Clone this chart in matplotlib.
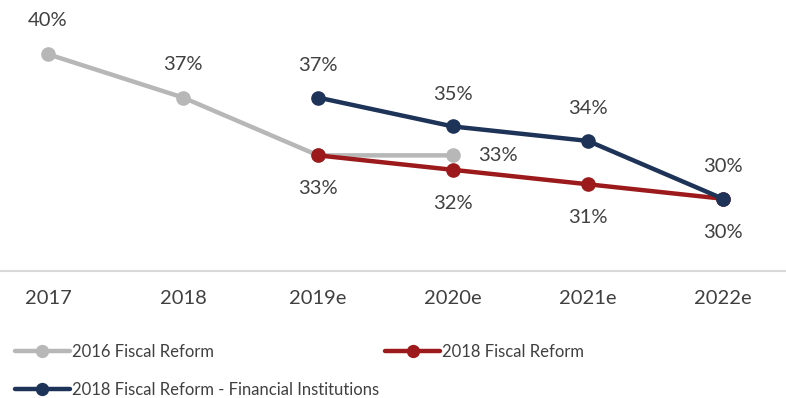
import matplotlib as mpl
mpl.use('Agg')
import matplotlib.pyplot as plt

plt.rcParams['font.family'] = ['Lato', 'DejaVu Sans']

years = ['2017', '2018', '2019e', '2020e', '2021e', '2022e']
reform_2016 = [40, 37, 33, 33]
reform_2018 = [None, None, 33, 32, 31, 30]
reform_2018_fi = [None, None, 37, 35, 34, 30]

GRAY = '#b7b7b7'
RED = '#9c1a1c'
NAVY = '#1e3358'
TEXT = '#404040'

fig = plt.figure(figsize=(7.86, 3.98), dpi=100)
ax = fig.add_axes([0, 1 - 271 / 398, 1, 271 / 398])

x_all = list(range(len(years)))


def series(vals):
    xs = [i for i, v in enumerate(vals) if v is not None]
    ys = [v for v in vals if v is not None]
    return xs, ys


style = dict(lw=3.2, marker='o', markersize=9.5, solid_capstyle='round')

gx, gy = series(reform_2016)
rx, ry = series(reform_2018)
nx, ny = series(reform_2018_fi)

l_gray, = ax.plot(gx, gy, color=GRAY, label='2016 Fiscal Reform', **style)
l_red, = ax.plot(rx, ry, color=RED, label='2018 Fiscal Reform', **style)
l_navy, = ax.plot(nx, ny, color=NAVY, label='2018 Fiscal Reform - Financial Institutions', **style)

lab = dict(fontsize=14.5, color=TEXT, ha='center', va='center', textcoords='offset points')

# 2016 reform labels (above, last one to the right)
for i, v in zip(gx[:2], gy[:2]):
    ax.annotate(f'{v}%', (i, v), xytext=(0, 24), **lab)
ax.annotate(f'{gy[3]}%', (gx[3], gy[3]), xytext=(32, 0), **lab)

# 2018 reform labels below
for i, v in zip(rx, ry):
    ax.annotate(f'{v}%', (i, v), xytext=(0, -24), **lab)

# financial institutions labels above
for i, v in zip(nx, ny):
    ax.annotate(f'{v}%', (i, v), xytext=(0, 23), **lab)

ax.set_xlim(-0.356, 5.467)
ax.set_ylim(25, 43.75)
ax.set_xticks(x_all)
ax.set_xticklabels(years, fontsize=14.5, color=TEXT)
ax.tick_params(axis='x', length=0, pad=14)
ax.set_yticks([])
for s in ['top', 'left', 'right']:
    ax.spines[s].set_visible(False)
ax.spines['bottom'].set_color('#d9d9d9')
ax.spines['bottom'].set_linewidth(1.5)

leg = fig.legend(handles=[l_gray, l_navy, l_red], ncol=2, frameon=False,
                 loc='upper left', bbox_to_anchor=(0.019, 0.135),
                 fontsize=12, handlelength=3.3, handletextpad=0.1, markerscale=0.9,
                 columnspacing=0.4, labelspacing=1.3, borderaxespad=0, borderpad=0)
for t in leg.get_texts():
    t.set_color(TEXT)

fig.savefig('out.png', dpi=100)
